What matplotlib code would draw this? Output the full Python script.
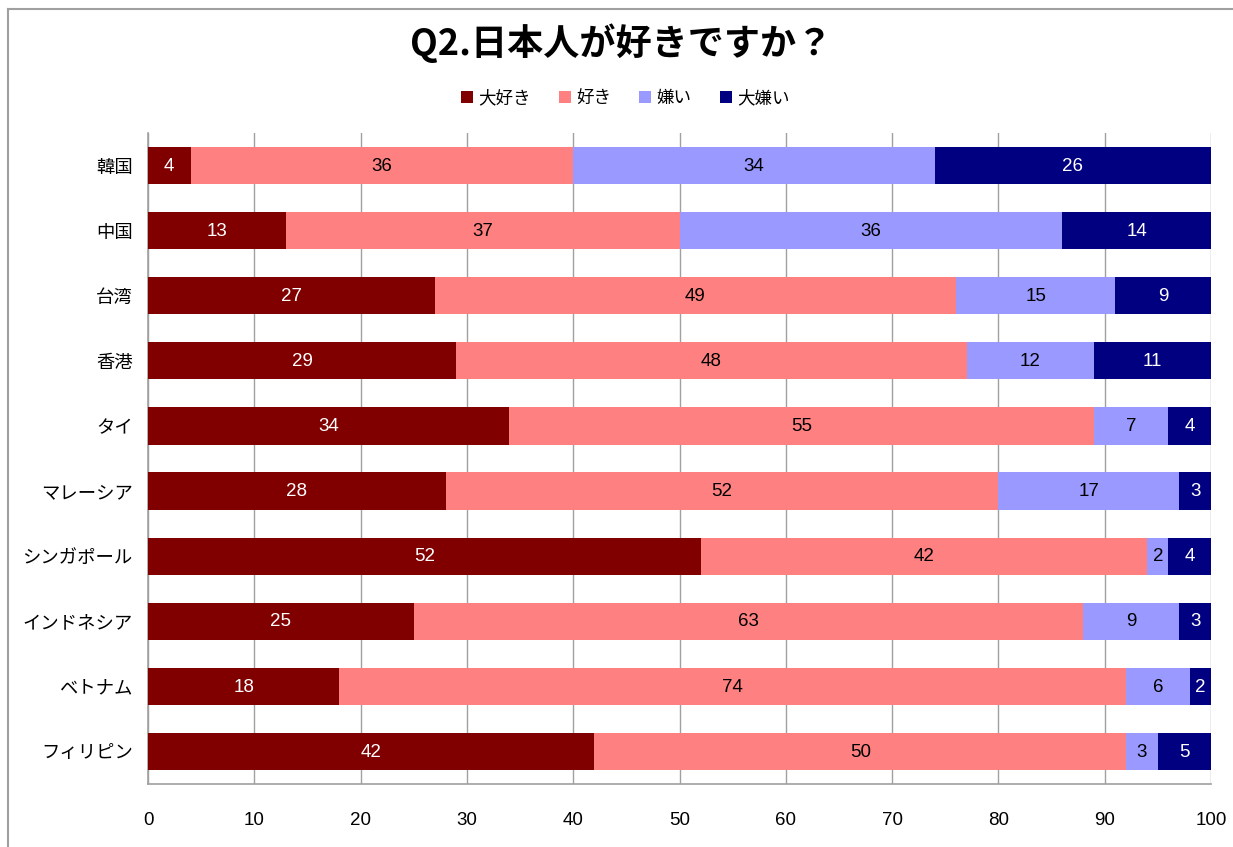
import matplotlib
matplotlib.use("Agg")
import matplotlib.pyplot as plt
from matplotlib.lines import Line2D

plt.rcParams['font.family'] = ['Noto Sans CJK JP', 'DejaVu Sans']

countries = ["韓国", "中国", "台湾", "香港", "タイ", "マレーシア", "シンガポール", "インドネシア", "ベトナム", "フィリピン"]
series_names = ["大好き", "好き", "嫌い", "大嫌い"]
daisuki = [4, 13, 27, 29, 34, 28, 52, 25, 18, 42]
suki = [36, 37, 49, 48, 55, 52, 42, 63, 74, 50]
kirai = [34, 36, 15, 12, 7, 17, 2, 9, 6, 3]
daikirai = [26, 14, 9, 11, 4, 3, 4, 3, 2, 5]
xticks = [0, 10, 20, 30, 40, 50, 60, 70, 80, 90, 100]

colors = ["#800000", "#FF8080", "#9999FF", "#000080"]
text_colors = ["white", "black", "black", "white"]

W, H = 1233, 847
fig = plt.figure(figsize=(W / 100, H / 100), dpi=100)
ax = fig.add_axes([148 / W, 1 - 784 / H, (1211 - 148) / W, (784 - 133) / H])

ypos = list(range(len(countries)))
left = [0] * len(countries)
for vals, col, tc, name in zip([daisuki, suki, kirai, daikirai], colors, text_colors, series_names):
    bars = ax.barh(ypos, vals, left=left, height=0.57, color=col, label=name, zorder=3)
    for b, v in zip(bars, vals):
        ax.text(b.get_x() + b.get_width() / 2, b.get_y() + b.get_height() / 2 + 0.01, str(v),
                ha="center", va="center", color=tc, fontsize=13.5,
                family=["Liberation Sans", "DejaVu Sans"], zorder=4)
    left = [l + v for l, v in zip(left, vals)]

ax.set_xlim(0, 100)
ax.set_ylim(len(countries) - 0.5, -0.5)
ax.set_yticks(ypos)
ax.set_yticklabels(countries, fontsize=13.2)
ax.set_xticks(xticks)
ax.set_xticklabels([str(t) for t in xticks], fontsize=13.5, family=["Liberation Sans", "DejaVu Sans"])
ax.tick_params(axis="y", length=0, pad=11)
ax.tick_params(axis="x", length=0, pad=20)
ax.xaxis.grid(True, color="#a0a0a0", linewidth=1, zorder=0)
ax.set_axisbelow(True)
for s in ["top", "right"]:
    ax.spines[s].set_visible(False)
for s in ["left", "bottom"]:
    ax.spines[s].set_color("#a0a0a0")
    ax.spines[s].set_linewidth(1.2)

fig.text(621 / W, 1 - 43 / H, "Q2.日本人が好きですか？", ha="center", va="center",
         fontsize=26, fontweight="bold")
leg = fig.legend(loc="center", bbox_to_anchor=(625 / W, 1 - 98 / H), ncol=4, frameon=False,
                 fontsize=12.6, handlelength=0.7, handleheight=0.7, handletextpad=0.3,
                 columnspacing=1.6)

# outer chart frame (top and left edges visible)
fig.add_artist(Line2D([8 / W, 1], [1 - 9 / H, 1 - 9 / H], color="#a0a0a0", linewidth=1.5))
fig.add_artist(Line2D([8 / W, 8 / W], [0, 1 - 9 / H], color="#a0a0a0", linewidth=1.5))

fig.savefig("out.png", dpi=100)
